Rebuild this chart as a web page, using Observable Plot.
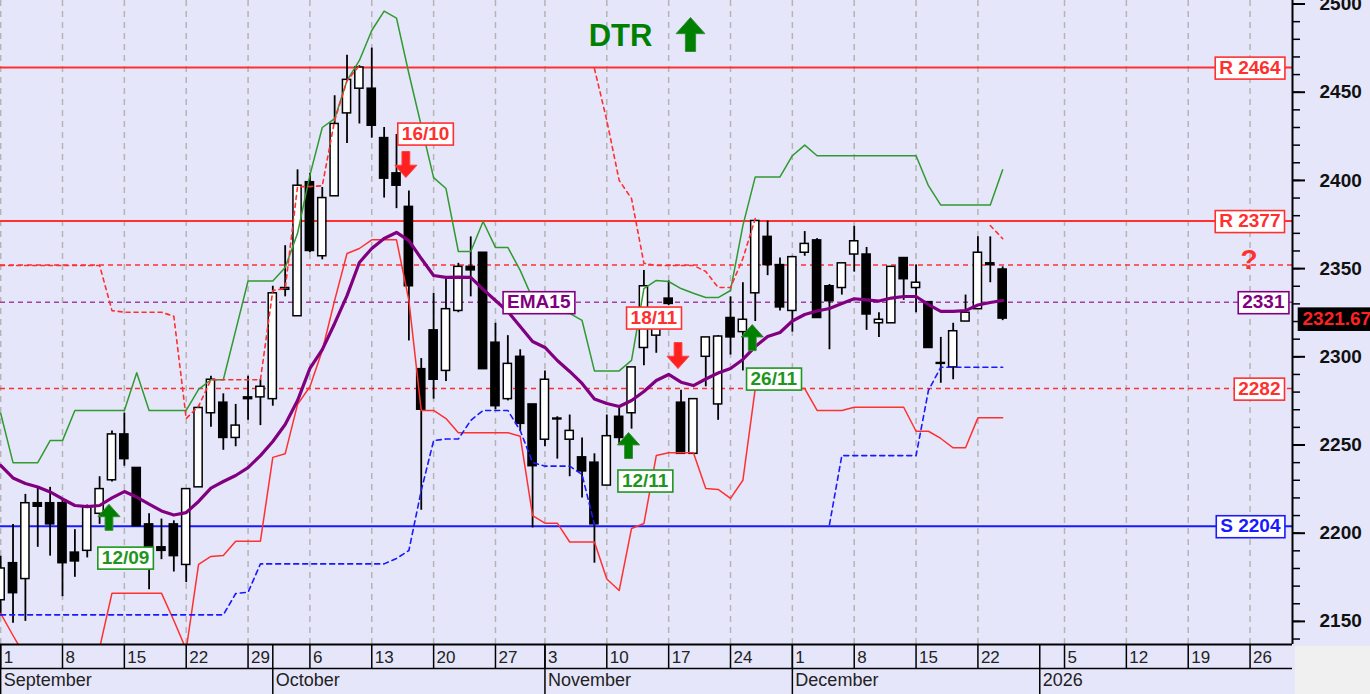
<!DOCTYPE html>
<html><head><meta charset="utf-8">
<script src="https://cdn.jsdelivr.net/npm/d3@7"></script>
<script src="https://cdn.jsdelivr.net/npm/@observablehq/plot@0.6"></script>
<style>html,body{margin:0;padding:0;background:#e6e6fa;overflow:hidden;}svg{display:block}</style>
</head><body><div id="chart"></div>
<script>
// ---- candles (one per trading-day slot, slot 0 = 1 September) ----
const opens  = [2162,2183,2174,2217,2217,2217,2189,2190,2211,2230, 2256,2237,2205,2192,2205,2182,2226,2268,2274,2254,
                2277,2277,2276,2338,2323,2399,2357,2391,2438,2452, 2452,2424,2404,2385,2293,2315,2292,2326,2351,2359,
                2308,2276,2300,2273,2253,2265,2253,2243,2240,2227, 2266,2268,2305,2312,2333,2274,2245,2300,2273,2322,
                2314,2336,2368,2352,2326,2359,2366,2340,2339,2358, 2358,2319,2319,2356,2339,2331,2296.5,2294,2320,2327,
                2353,2349.5];
const highs  = [2187,2205,2222,2226,2226,2219,2202,2216,2232,2258, 2268,2237,2211,2208,2207,2225,2272,2289,2279,2273,
                2289,2287,2340,2363,2406,2404,2396,2448,2471,2465, 2475,2430,2426,2394,2299,2336,2344,2353,2368,2359,
                2319,2312,2304,2273,2292,2266,2267,2254,2245,2267, 2271,2294,2349,2321,2343,2281,2276,2311,2312,2334,
                2342,2377,2377,2356,2357,2371,2367,2341,2353,2374, 2362,2325,2351,2356,2352,2331,2311,2319,2335,2368,
                2368,2351];
const lows   = [2153,2149,2150,2192,2187,2164,2175,2186,2205,2229, 2238,2204,2168,2185,2178,2172,2226,2260,2247,2249,
                2264,2261,2272,2334,2323,2359,2355,2391,2421,2432, 2424,2390,2384,2309,2213,2276,2286,2325,2334,2293,
                2270,2275,2258,2203,2249,2242,2232,2220,2183,2227, 2250,2259,2295,2302,2329,2245,2245,2283,2264,2301,
                2292,2320,2346,2326,2314,2357,2322,2304,2335,2348, 2315,2311,2319,2332,2325,2305,2285,2287,2320,2327,
                2342,2320.5];
const closes = [2180,2166,2217,2215,2205,2183,2184,2215,2225,2256, 2242,2204,2192,2190,2187,2225,2271,2287,2254,2261,
                2276,2283,2336,2339,2397,2360,2390,2432,2457,2464, 2431,2401,2397,2340,2270,2287,2327,2351,2349,2293,
                2272,2296,2262,2238,2287,2264.5,2258,2235,2205,2255, 2254,2294,2340,2317,2330,2245,2276,2311,2311.5,2311,
                2321,2377,2352,2328,2356.5,2364,2322,2331.5,2353,2365.5, 2324,2321,2351,2344,2342,2305,2296,2314.5,2325,2359,
                2352,2321.67];

// ---- indicator lines, one value per slot (null = not drawn) ----
const ema15 = [2238.4,2231.3,2228.2,2226.2,2223.4,2219.4,2215.7,2215.1,2215.7,2220.0,
               2223.6,2220.5,2216.5,2212.6,2210.3,2211.7,2218.0,2225.6,2229.3,2232.7,
               2237.2,2244.0,2252.0,2261.6,2275.2,2293.4,2304.1,2318.9,2334.7,2353.5,
               2361.4,2367.1,2370.5,2365.9,2355.7,2346.1,2345.0,2345.2,2345.0,2338.2,
               2331.9,2325.7,2317.2,2308.7,2305.3,2297.9,2291.7,2284.9,2276.1,2273.5,
               2271.8,2275.2,2280.3,2286.6,2290.0,2285.6,2283.7,2287.4,2290.8,2293.4,
               2298.5,2305.8,2311.5,2313.8,2320.3,2324.0,2326.0,2327.4,2330.2,2332.9,
               2332.3,2331.6,2333.3,2334.2,2334.2,2329.6,2325.8,2325.8,2326.2,2329.4,
               2330.8,2331.9];
const upperBand = [2268,2240,2240,2240,2252.5,2252.5,2269.6,2269.6,2269.6,2269.6,
                   2269.6,2291,2269.6,2269.6,2269.6,2269.6,2281.5,2287,2287,2315,
                   2343,2343,2343,2350.6,2370,2403,2430,2435,2456.6,2468,
                   2485,2496,2492,2460.6,2431,2401.6,2395.4,2359.7,2359.7,2376.7,
                   2362,2362,2349,2333,2325,2325,2324.6,2320.6,2292,2292,
                   2292,2298,2338.7,2343.3,2342.7,2338.7,2336,2333.6,2333.6,2337.6,
                   2374.4,2402,2402,2402,2414,2420,2414,2414,2414,2414,
                   2414,2414,2414,2414,2414,2397,2386,2386,2386,2386,
                   2386,2406];
const lowerBand = [2154.5,2142,2130,2125,2125,2125,2125,2125,2135,2166,
                   2166,2166,2166,2166,2150.5,2134,2182.3,2186.8,2187.4,2195.5,
                   2195.5,2195.5,2243,2245,2273,2283,2303.6,2332,2358.6,2361.4,
                   2366.3,2366.3,2366.3,2332,2269.6,2269.6,2265,2257,2257,2257,
                   2257,2257,2255,2210,2205.7,2205.7,2195,2195,2195,2174,
                   2167.5,2202.7,2205.5,2244,2245.6,2245.6,2245.6,2225.3,2224.8,2219.7,
                   2230,2282,2282,2282,2282,2282,2269.6,2269.6,2269.6,2271.4,
                   2271.4,2271.4,2271.4,2271.4,2257.8,2257.8,2253.7,2248.4,2248.4,2265.4,
                   2265.4,2265.4];
const upperStop = [2351.8,2351.8,2351.8,2351.8,2351.8,2351.8,2351.8,2351.8,2351.8,2326.2,
                   2325.3,2325.3,2325.3,2325.3,2323,2265,2272,2287,2287,2287,
                   2287,2287,2337.6,2338.7,2396.5,2396.5,2397,2434,2456.6,2465,
                   null,null,null,null,null,null,null,null,null,null,
                   null,null,null,null,null,null,null,null,2463.4,2434,
                   2400,2389.7,2353,2351.8,2351.8,2351.8,2351.8,2348.4,2339.3,2339.3,
                   2355.7,2378.4,null,null,null,null,null,null,null,null,
                   null,null,null,null,null,null,null,null,null,null,
                   2374.4,2367];
const lowerStop = [2153.7,2153.7,2153.7,2153.7,2153.7,2153.7,2153.7,2153.7,2153.7,2153.7,
                   2153.7,2153.7,2153.7,2153.7,2153.7,2153.7,2153.7,2153.7,2153.7,2165.8,
                   2166.5,2182.6,2182.6,2182.6,2182.6,2182.6,2182.6,2182.6,2182.6,2182.6,
                   2182.6,2182.6,2185.7,2190.2,2224.2,2252.5,2253.4,2253.4,2263.9,2269.6,
                   2269.6,2269.6,2258.2,2240.1,2238,2238,2238,2233.3,2204.9,null,
                   null,null,null,null,null,null,null,null,null,null,
                   null,null,null,null,null,null,null,2204.9,2244,2244,
                   2244,2244,2244,2244,2244,2280.9,2294.1,2294.1,2294.1,2294.1,
                   2294.1,2294.1];

// ---- horizontal levels ----
const resistances = [2464, 2377];
const resistanceLabels = ["R 2464", "R 2377"];
const pivots = [2352, 2282];
const emaLevel = [2331];
const supports = [2204];
const supportLabels = ["S 2204"];

// ---- signals ----
const signalDates  = ["12/09", "16/10", "12/11", "18/11", "26/11"];
const signalSlots  = [9, 33, 51, 55, 61];
const signalSides  = ["buy", "sell", "buy", "sell", "buy"];
const signalArrowValues = [2209, 2409, 2249.7, 2300.7, 2310.9];
const signalLabelSlots  = [10.1, 34.35, 52.1, 52.8, 62.5];
const signalLabelValues = [2186.2, 2426.6, 2229.9, 2322.3, 2287.7];
const emaLabel = {slot: 43.5, value: 2331, text: "EMA15"};

// ---- axis ticks ----
const weekTickSlots  = [0,5,10,15,20,25,30,35,40,44,49,54,59,64,69,74,79,86,91,96,101];
const weekTickLabels = ["1","8","15","22","29","6","13","20","27","3","10","17","24","1","8","15","22","5","12","19","26"];
const monthTickSlots  = [0,22,44,64,84];
const monthTickLabels = ["September","October","November","December","2026"];
const yMajor = [2150,2200,2250,2300,2350,2400,2450,2500];
const yMinor = [2140,2150,2160,2170,2180,2190,2200,2210,2220,2230,2240,2250,2260,2270,2280,2290,2300,2310,2320,2330,
                2340,2350,2360,2370,2380,2390,2400,2410,2420,2430,2440,2450,2460,2470,2480,2490,2500];

const xDomain = [-0.012, 104.43];
const yDomain = [2136.9, 2502];

const candles = opens.map((o, i) => ({i, open: o, high: highs[i], low: lows[i], close: closes[i]}));
const upCandles = candles.filter(d => d.close >= d.open);
const downCandles = candles.filter(d => d.close < d.open);
const signals = signalDates.map((d, k) => ({date: d, slot: signalSlots[k], side: signalSides[k],
  arrow: signalArrowValues[k], labelSlot: signalLabelSlots[k], labelValue: signalLabelValues[k]}));
const weekLabel = new Map(weekTickSlots.map((s, k) => [s, weekTickLabels[k]]));
const monthLabel = new Map(monthTickSlots.map((s, k) => [s, monthTickLabels[k]]));
const lastClose = closes[closes.length - 1];

const arrowUp = {draw(ctx, size) {
  const r = Math.sqrt(size / Math.PI), hw = r * 0.85, sw = r * 0.3, hh = r * 0.95;
  ctx.moveTo(0, -r); ctx.lineTo(hw, -r + hh); ctx.lineTo(sw, -r + hh); ctx.lineTo(sw, r);
  ctx.lineTo(-sw, r); ctx.lineTo(-sw, -r + hh); ctx.lineTo(-hw, -r + hh); ctx.closePath();
}};
const arrowDown = {draw(ctx, size) {
  const r = Math.sqrt(size / Math.PI), hw = r * 0.85, sw = r * 0.3, hh = r * 0.95;
  ctx.moveTo(0, r); ctx.lineTo(hw, r - hh); ctx.lineTo(sw, r - hh); ctx.lineTo(sw, -r);
  ctx.lineTo(-sw, -r); ctx.lineTo(-sw, r - hh); ctx.lineTo(-hw, r - hh); ctx.closePath();
}};

const RED = "#ff3030", GREEN = "#2f9a2f", PURPLE = "#800080", BLUE = "#1a1aff";
const idx = (d, i) => i;
const lbl = {fontWeight: "bold", fontSize: 19};

const chart = Plot.plot({
  width: 1370, height: 694,
  marginLeft: 0, marginRight: 78, marginTop: 0, marginBottom: 50,
  style: {background: "#e6e6fa", fontFamily: "'Liberation Sans', Arial, sans-serif", overflow: "visible"},
  x: {type: "linear", domain: xDomain, axis: null},
  y: {type: "linear", domain: yDomain, axis: null},
  marks: [
    // grid
    Plot.ruleX(weekTickSlots, {x: d => d, stroke: "#b4b4b4", strokeWidth: 1.5, strokeDasharray: "6,5"}),
    // levels
    Plot.ruleY(resistances, {y: d => d, stroke: RED, strokeWidth: 2}),
    Plot.ruleY(pivots, {y: d => d, stroke: RED, strokeWidth: 1.5, strokeDasharray: "5,4"}),
    Plot.ruleY(emaLevel, {y: d => d, stroke: "#a040a0", strokeWidth: 1.5, strokeDasharray: "5,4"}),
    Plot.ruleY(supports, {y: d => d, stroke: BLUE, strokeWidth: 2}),
    // candles
    Plot.ruleX(candles, {x: "i", y1: "low", y2: "high", stroke: "#000", strokeWidth: 1.8, clip: true}),
    Plot.rect(upCandles, {x1: d => d.i - 0.33, x2: d => d.i + 0.33, y1: "open", y2: "close", fill: "#fff", stroke: "#000", strokeWidth: 1.5, clip: true}),
    Plot.rect(downCandles, {x1: d => d.i - 0.33, x2: d => d.i + 0.33, y1: "open", y2: "close", fill: "#000", stroke: "#000", strokeWidth: 1.5, clip: true}),
    // indicator lines
    Plot.line(upperBand, {x: idx, y: d => d, stroke: GREEN, strokeWidth: 1.5, clip: true}),
    Plot.line(lowerBand, {x: idx, y: d => d, stroke: RED, strokeWidth: 1.5, clip: true}),
    Plot.line(upperStop, {x: idx, y: d => d, stroke: RED, strokeWidth: 1.6, strokeDasharray: "4,4", clip: true}),
    Plot.line(lowerStop, {x: idx, y: d => d, stroke: BLUE, strokeWidth: 1.6, strokeDasharray: "5,4", clip: true}),
    Plot.line(ema15, {x: idx, y: d => d, stroke: PURPLE, strokeWidth: 3.2, strokeLinejoin: "round", clip: true}),
    // level labels
    Plot.text(resistances, {y: d => d, text: (d, i) => resistanceLabels[i], frameAnchor: "right", textAnchor: "end", dx: -12, fill: RED, ...lbl}),
    Plot.text(pivots.slice(1), {y: d => d, text: d => String(d), frameAnchor: "right", textAnchor: "end", dx: -12, fill: RED, ...lbl}),
    Plot.text(emaLevel, {y: d => d, text: d => String(d), frameAnchor: "right", textAnchor: "end", dx: -8, fill: PURPLE, ...lbl}),
    Plot.text(supports, {y: d => d, text: (d, i) => supportLabels[i], frameAnchor: "right", textAnchor: "end", dx: -12, fill: BLUE, ...lbl}),
    Plot.text(pivots.slice(0, 1), {y: d => d, text: () => "?", frameAnchor: "right", dx: -35, dy: -5, fill: RED, fontWeight: "bold", fontSize: 28}),
    Plot.text([emaLabel], {x: "slot", y: "value", text: "text", fill: PURPLE, ...lbl}),
    // signals
    Plot.dot(signals.filter(d => d.side === "buy"), {x: "slot", y: "arrow", dx: -3, r: 13, symbol: arrowUp, fill: "#008000", stroke: "#3a8a3a", strokeWidth: 1}),
    Plot.dot(signals.filter(d => d.side === "sell"), {x: "slot", y: "arrow", dx: -3, r: 13, symbol: arrowDown, fill: "#ff2020", stroke: "#ff4040", strokeWidth: 1}),
    Plot.text(signals.filter(d => d.side === "buy"), {x: "labelSlot", y: "labelValue", text: "date", fill: "#1e961e", ...lbl}),
    Plot.text(signals.filter(d => d.side === "sell"), {x: "labelSlot", y: "labelValue", text: "date", fill: RED, ...lbl}),
    // DTR
    Plot.text(["DTR"], {frameAnchor: "top", text: d => d, dx: -26, dy: 36, lineAnchor: "middle", fill: "#008000", fontWeight: "bold", fontSize: 31}),
    Plot.dot(["DTR"], {frameAnchor: "top", dx: 44, dy: 34, r: 17, symbol: arrowUp, fill: "#008000", stroke: "#3a8a3a", strokeWidth: 1}),
    // last price
    Plot.text([lastClose], {y: d => d, text: d => d.toFixed(2), frameAnchor: "right", textAnchor: "start", dx: 10, fill: "#ff2020", ...lbl}),
    // x axis
    Plot.ruleY([yDomain[0]], {y: d => d, stroke: "#000", strokeWidth: 2}),
    Plot.ruleY([yDomain[0]], {y: d => d, dy: 24, stroke: "#000", strokeWidth: 1.5}),
    Plot.axisX(weekTickSlots, {anchor: "bottom", tickSize: 24, tickFormat: () => "", stroke: "#000", strokeWidth: 1.5, label: null}),
    Plot.axisX(weekTickSlots, {anchor: "bottom", tickSize: 0, tickPadding: 6, tickFormat: d => weekLabel.get(d), textAnchor: "start", dx: 3, fontSize: 17, fill: "#222", label: null}),
    Plot.axisX(monthTickSlots, {anchor: "bottom", tickSize: 50, tickFormat: () => "", stroke: "#000", strokeWidth: 1.5, label: null}),
    Plot.axisX(monthTickSlots, {anchor: "bottom", tickSize: 0, tickPadding: 29, tickFormat: d => monthLabel.get(d), textAnchor: "start", dx: 3, fontSize: 18, fill: "#222", label: null}),
    // y axis (right)
    Plot.ruleX([xDomain[1]], {x: d => d, stroke: "#000", strokeWidth: 2}),
    Plot.axisY(yMinor, {anchor: "right", tickSize: 7, tickFormat: () => "", stroke: "#000", strokeWidth: 1.5, label: null}),
    Plot.axisY(yMajor, {anchor: "right", tickSize: 12, tickPadding: 15, tickFormat: "d", fontSize: 19, fontWeight: "bold", fill: "#111", stroke: "#000", strokeWidth: 2, label: null})
  ]
});

document.getElementById("chart").appendChild(chart);

// white boxes behind annotation texts
const boxes = {
  "R 2464": [RED, "#fff"], "R 2377": [RED, "#fff"], "2282": [RED, "#fff"], "2331": [PURPLE, "#fff"],
  "S 2204": [BLUE, "#fff"], "EMA15": [PURPLE, "#fff"], "16/10": [RED, "#fff"], "18/11": [RED, "#fff"],
  "12/09": ["#1e961e", "#fff"], "12/11": ["#1e961e", "#fff"], "26/11": ["#1e961e", "#fff"],
  [lastClose.toFixed(2)]: ["#000", "#000"]
};
chart.querySelectorAll("text").forEach(t => {
  const key = t.textContent;
  if (!(key in boxes) || t.children.length > 1) return;
  const b = t.getBBox();
  const r = document.createElementNS("http://www.w3.org/2000/svg", "rect");
  r.setAttribute("x", b.x - 4); r.setAttribute("y", b.y + 0.5);
  r.setAttribute("width", b.width + 8); r.setAttribute("height", b.height + 1);
  r.setAttribute("fill", boxes[key][1]); r.setAttribute("stroke", boxes[key][0]);
  r.setAttribute("stroke-width", 1.6);
  if (t.getAttribute("transform")) r.setAttribute("transform", t.getAttribute("transform"));
  t.parentNode.insertBefore(r, t);
});
// grey corner below the price axis
const xs = chart.scale("x"), ys = chart.scale("y");
const corner = document.createElementNS("http://www.w3.org/2000/svg", "rect");
corner.setAttribute("x", xs.range[1] + 3); corner.setAttribute("y", ys.range[0] + 2);
corner.setAttribute("width", 1370 - xs.range[1] - 3); corner.setAttribute("height", 694 - ys.range[0] - 2);
corner.setAttribute("fill", "#f0f0f0");
chart.appendChild(corner);
</script></body></html>
